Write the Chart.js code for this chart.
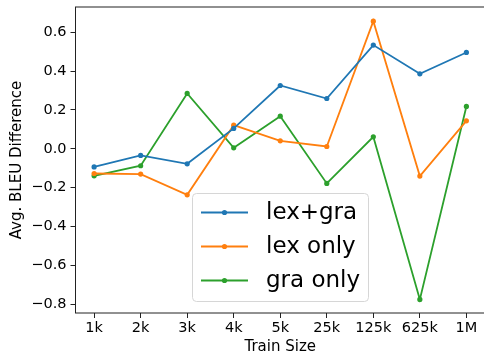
<!DOCTYPE html>
<html>
<head>
<meta charset="utf-8">
<script src="https://cdn.jsdelivr.net/npm/chart.js@4/dist/chart.umd.min.js"></script>
<style>
  html, body { margin: 0; padding: 0; background: #fff; overflow: hidden; }
  #wrap { width: 488px; height: 356px; }
</style>
</head>
<body>
<div id="wrap"><canvas id="bleu-chart"></canvas></div>
<script>
// train sizes on the x axis
const trainSizes = ['1k', '2k', '3k', '4k', '5k', '25k', '125k', '625k', '1M'];

// avg BLEU difference per setting
const lexGra = [-0.093, -0.034, -0.077, 0.105, 0.326, 0.259, 0.534, 0.386, 0.496];
const lexOnly = [-0.127, -0.130, -0.237, 0.122, 0.041, 0.012, 0.657, -0.140, 0.144];
const graOnly = [-0.139, -0.087, 0.285, 0.005, 0.168, -0.178, 0.062, -0.775, 0.218];

const yTicks = [-0.8, -0.6, -0.4, -0.2, 0.0, 0.2, 0.4, 0.6];

const FONT = "'DejaVu Sans', sans-serif";

const toPoints = (arr) => arr.map((v, i) => ({ x: i, y: v }));

const makeSet = (label, values, color) => ({
  label: label,
  data: toPoints(values),
  borderColor: color,
  backgroundColor: color,
  borderWidth: 1.8,
  pointRadius: 2.6,
  pointHoverRadius: 2.6,
  pointBorderWidth: 0,
  tension: 0
});

// box around the plot like matplotlib spines
const frame = {
  id: 'frame',
  afterDraw(chart) {
    const { ctx, chartArea: a } = chart;
    ctx.save();
    ctx.strokeStyle = '#222';
    ctx.lineWidth = 1;
    ctx.strokeRect(a.left, a.top, a.right - a.left, a.bottom - a.top);
    ctx.restore();
  }
};

// legend drawn inside the plot area
const boxLegend = {
  id: 'boxLegend',
  afterDraw(chart) {
    const ctx = chart.ctx;
    const x0 = 192.5, y0 = 193.5, w = 176, h = 108, r = 4;
    ctx.save();
    ctx.fillStyle = 'rgba(255,255,255,0.85)';
    ctx.strokeStyle = '#d6d6d6';
    ctx.lineWidth = 1;
    ctx.beginPath();
    ctx.roundRect(x0, y0, w, h, r);
    ctx.fill();
    ctx.stroke();
    chart.data.datasets.forEach((ds, i) => {
      const cy = 212.5 + i * 34;
      ctx.strokeStyle = ds.borderColor;
      ctx.lineWidth = 1.8;
      ctx.beginPath();
      ctx.moveTo(201, cy);
      ctx.lineTo(248, cy);
      ctx.stroke();
      ctx.fillStyle = ds.borderColor;
      ctx.beginPath();
      ctx.arc(224.5, cy, 2.6, 0, Math.PI * 2);
      ctx.fill();
      ctx.fillStyle = '#000';
      ctx.font = '23px ' + FONT;
      ctx.textBaseline = 'middle';
      ctx.fillText(ds.label, 266, cy + 1);
    });
    ctx.restore();
  }
};

new Chart(document.getElementById('bleu-chart'), {
  type: 'line',
  data: {
    datasets: [
      makeSet('lex+gra', lexGra, '#1f77b4'),
      makeSet('lex only', lexOnly, '#ff7f0e'),
      makeSet('gra only', graOnly, '#2ca02c')
    ]
  },
  options: {
    responsive: true,
    maintainAspectRatio: false,
    animation: false,
    events: [],
    layout: { padding: { top: 7, right: 3, left: 0, bottom: 0 } },
    plugins: { legend: { display: false }, tooltip: { enabled: false } },
    scales: {
      x: {
        type: 'linear',
        min: -0.4,
        max: trainSizes.length - 0.6,
        afterBuildTicks: (scale) => {
          scale.ticks = trainSizes.map((_, i) => ({ value: i }));
        },
        afterFit: (scale) => {
          scale.height = 43;
          scale.paddingLeft = 0;
          scale.paddingRight = 0;
        },
        ticks: {
          callback: (v) => trainSizes[v],
          color: '#000',
          font: { family: FONT, size: 14.5 },
          padding: 2,
          maxRotation: 0,
          autoSkip: false
        },
        grid: { drawOnChartArea: false, drawTicks: true, tickLength: 5, color: '#222' },
        border: { display: false },
        title: {
          display: true,
          text: 'Train Size',
          color: '#000',
          font: { family: FONT, size: 15 },
          padding: { top: 0, bottom: 0 }
        }
      },
      y: {
        min: -0.845,
        max: 0.73,
        afterBuildTicks: (scale) => {
          scale.ticks = yTicks.map(v => ({ value: v }));
        },
        afterFit: (scale) => {
          scale.width = 75.5;
          scale.paddingTop = 0;
          scale.paddingBottom = 0;
        },
        ticks: {
          callback: (v) => v.toFixed(1).replace('-', '\u2212'),
          color: '#000',
          font: { family: FONT, size: 14.5 },
          padding: 4
        },
        grid: { drawOnChartArea: false, drawTicks: true, tickLength: 5, color: '#222' },
        border: { display: false },
        title: {
          display: true,
          text: 'Avg. BLEU Difference',
          color: '#000',
          font: { family: FONT, size: 15 },
          padding: { top: 8, bottom: 0 }
        }
      }
    }
  },
  plugins: [frame, boxLegend]
});
</script>
</body>
</html>
